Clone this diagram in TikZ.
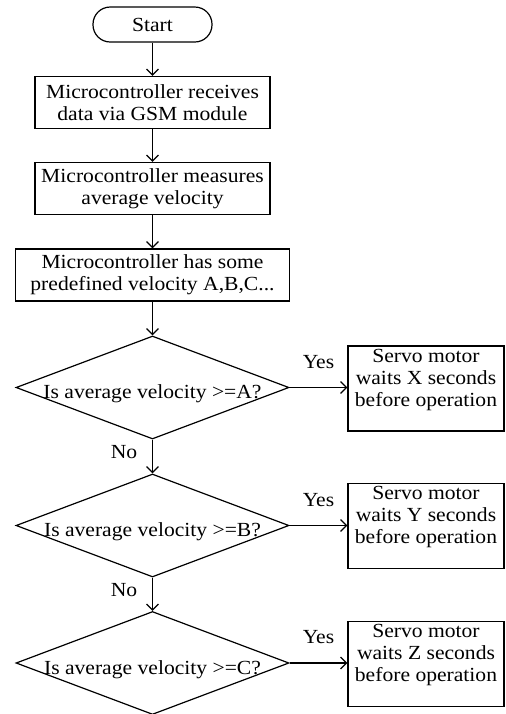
\documentclass[tikz,border=0pt]{standalone}
\usepackage{fontspec}
\setmainfont{Liberation Serif}[FakeStretch=1.08]
\usepackage{tikz}
\usetikzlibrary{shapes.geometric,arrows.meta}

\tikzset{
  every node/.style={font=\fontsize{10}{11}\selectfont},
  startstop/.style={draw, rounded corners=8.6pt, minimum width=59.5pt, minimum height=17.5pt, inner sep=0pt},
  process/.style={draw, align=center, minimum height=26pt, inner sep=0pt},
  decision/.style={draw, diamond, minimum width=136.5pt, minimum height=51.5pt, inner sep=0pt, text height=11pt, text depth=0pt},
  servo/.style={draw, align=center, minimum width=78pt, minimum height=42.5pt, inner sep=0pt},
  flow/.style={->},
}

\begin{document}
\begin{tikzpicture}[x=0.5pt,y=-0.5pt,line width=0.6pt,>={Straight Barb[length=3pt,width=6pt]}]
\useasboundingbox (0,0) rectangle (505,714);
% main column
\node[startstop] (start) at (152.5,24.5) {Start};
\node[process,minimum width=117.5pt] (gsm) at (152.5,102.5) {Microcontroller receives\\data via GSM module};
\node[process,minimum width=117.5pt] (measure) at (152.5,188.5) {Microcontroller measures\\average velocity};
\node[process,minimum width=137pt] (predef) at (152.5,275) {Microcontroller has some\\predefined velocity A,B,C...};
\node[decision] (decA) at (152.5,387.5) {\makebox[0pt]{Is average velocity >=A?}};
\node[decision] (decB) at (152.5,525.5) {\makebox[0pt]{Is average velocity >=B?}};
\node[decision] (decC) at (152.5,663) {\makebox[0pt]{Is average velocity >=C?}};
% servo boxes
\node[servo] (servoA) at (426,388.5) {Servo motor\\waits X seconds\\before operation\\\mbox{}};
\node[servo] (servoB) at (426,526) {Servo motor\\waits Y seconds\\before operation\\\mbox{}};
\node[servo] (servoC) at (426,664) {Servo motor\\waits Z seconds\\before operation\\\mbox{}};

\draw[flow] (start) -- (gsm);
\draw[flow] (gsm) -- (measure);
\draw[flow] (measure) -- (predef);
\draw[flow] (predef) -- (decA);
\draw[flow] (decA) -- node[left=4pt,yshift=2pt] (noA) {No} (decB);
\draw[flow] (decB) -- node[left=4pt,yshift=2pt] (noB) {No} (decC);
\draw[flow] (decA.east) -- node[above=6pt] (yesA) {Yes} (servoA.west |- decA.east);
\draw[flow] (decB.east) -- node[above=6pt] (yesB) {Yes} (servoB.west |- decB.east);
\draw[flow] (decC.east) -- node[above=6pt] (yesC) {Yes} (servoC.west |- decC.east);
\end{tikzpicture}
\end{document}
